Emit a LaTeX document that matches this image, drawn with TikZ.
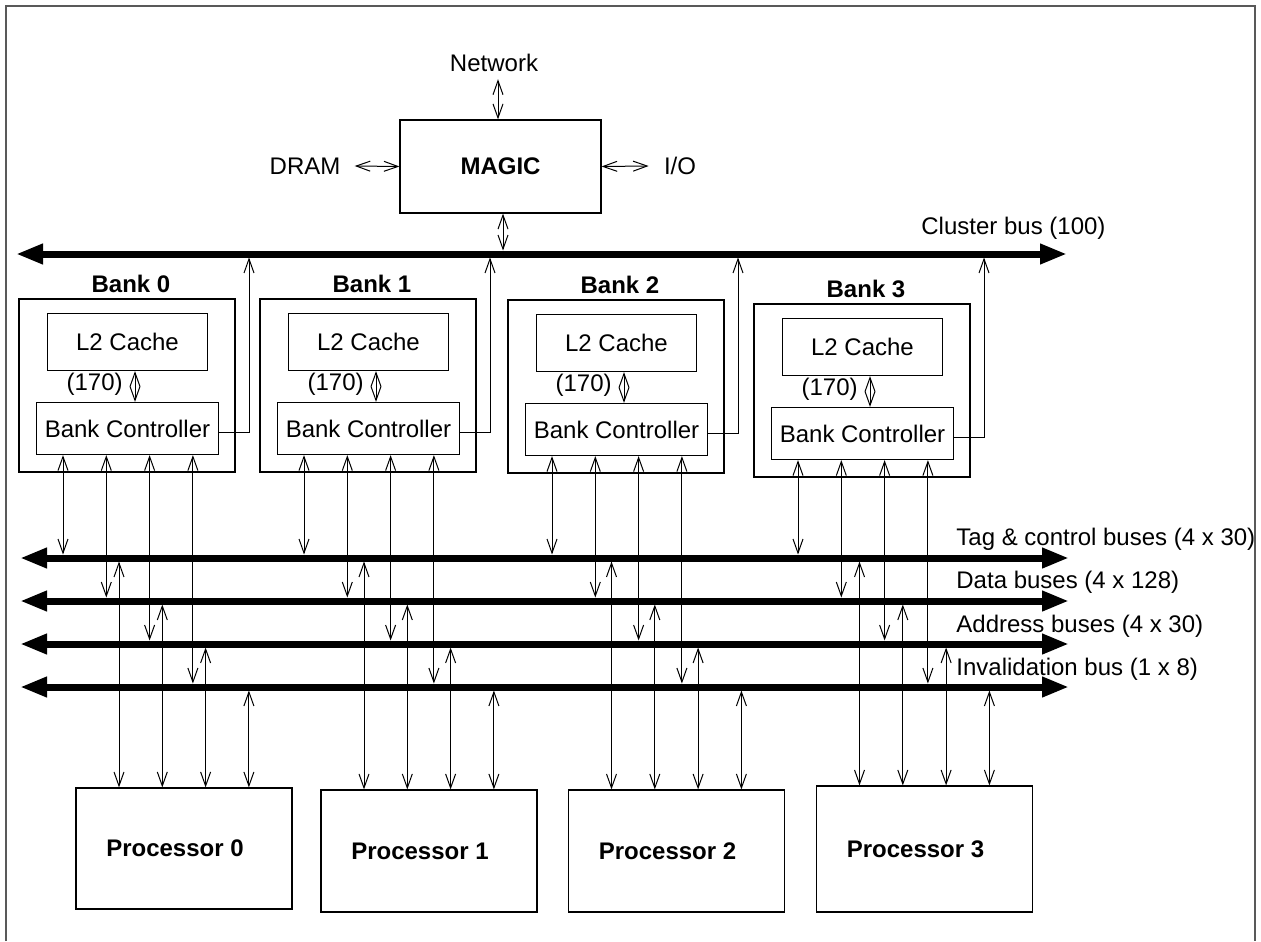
\documentclass[tikz,border=0pt]{standalone}
\usepackage{fontspec}
\setmainfont{Liberation Sans}
\usetikzlibrary{arrows.meta}

\tikzset{
  box/.style={draw, line width=0.6pt, inner sep=0pt},
  lbl/.style={inner sep=0pt},
  biarrow/.style={{Straight Barb[length=7pt,width=5pt]}-{Straight Barb[length=7pt,width=5pt]}, line width=0.5pt},
  uparrow/.style={-{Straight Barb[length=7pt,width=5pt]}, line width=0.5pt},
  bus/.style={{Triangle[length=13.5pt,width=9.5pt]}-{Triangle[length=13.5pt,width=9.5pt]}, line width=3.5pt},
}

\begin{document}
\begin{tikzpicture}[x=0.5pt,y=-0.5pt,font=\fontsize{12pt}{14pt}\selectfont]
    \useasboundingbox (0,0) rectangle (1261,941);
    % frame, open at the bottom
    \draw[black!65, line width=1pt] (6,941) -- (6,6) -- (1255,6) -- (1255,941);

    % MAGIC and the outside world
    \node[box, minimum width=100.5pt, minimum height=46.5pt] (magic) at (500.5,166.5) {\textbf{MAGIC}};
    \node[lbl] (net) at (494,63) {Network};
    \node[lbl] (dram) at (305,166) {DRAM};
    \node[lbl] (io) at (680,166) {I/O};
    \coordinate (netpin) at ([xshift=2pt,yshift=-3.5pt]net.south);
    \draw[biarrow] (netpin) -- (netpin |- magic.north);
    \draw[biarrow] ([xshift=7pt]dram.east) -- (magic.west);
    \draw[biarrow] (magic.east) -- ([xshift=-7.5pt]io.west);

    % cluster bus
    \coordinate (clusterW) at (16,254);
    \coordinate (clusterE) at (1067,254);
    \coordinate (clustertop) at (0,250.5);
    \draw[bus] (clusterW) -- (clusterE);
    \node[lbl, anchor=west] (clusterlbl) at (921,228) {Cluster bus (100)};
    \draw[biarrow] ([xshift=1.25pt]magic.south) -- ([xshift=1.25pt]magic.south |- clustertop);

    % the four bank buses
    \foreach \y [count=\i from 0] in {558,601,644,687} {
        \coordinate (busW\i) at (20,\y);
        \coordinate (busE\i) at (1069,\y);
        \coordinate (bustop\i) at (0,\y-3.5);
        \coordinate (busbot\i) at (0,\y+3.5);
        \draw[bus] (busW\i) -- (busE\i);
    }
    \node[lbl, anchor=west] (buslbl0) at (956,539) {Tag \& control buses (4 x 30)};
    \node[lbl, anchor=west] (buslbl1) at (956,582) {Data buses (4 x 128)};
    \node[lbl, anchor=west] (buslbl2) at (956,626) {Address buses (4 x 30)};
    \node[lbl, anchor=west] (buslbl3) at (956,669) {Invalidation bus (1 x 8)};

    % banks
    \foreach \n/\ox/\oy in {0/19/299, 1/260/299, 2/508/300, 3/754/304} {
        \node[box, minimum width=108pt, minimum height=86.5pt] (bank\n) at (\ox+108,\oy+86.5) {};
        \node[lbl] (banklbl\n) at (\ox+112,\oy-15) {\textbf{Bank \n}};
        \node[box, minimum width=80pt, minimum height=28.5pt] (cache\n) at (\ox+108.5,\oy+43) {L2 Cache};
        \node[box, minimum width=91pt, minimum height=26pt] (ctrl\n) at (\ox+108.5,\oy+129.5) {Bank Controller};
        \coordinate (link\n) at (\ox+116,0);
        \draw[biarrow] (link\n |- cache\n.south) -- (link\n |- ctrl\n.north);
        \node[lbl, anchor=east] (width\n) at (\ox+104,\oy+85) {(170)};
        \coordinate (up\n) at (\ox+230,257.5);
        \draw[uparrow] ([yshift=-2pt]ctrl\n.east) -| (up\n);
        \foreach \k in {0,...,3} {
            \coordinate (port) at (\ox+44+43.3*\k,0);
            \draw[biarrow] (port |- ctrl\n.south) -- (port |- bustop\k);
        }
    }

    % processors
    \foreach \n/\px/\py/\ph in {0/184/848.5/60.5, 1/429/851/61, 2/676.5/851/61, 3/924.5/849/63} {
        \node[box, minimum width=108pt, minimum height=\ph pt, label={[xshift=-4.5pt]center:\textbf{Processor \n}}] (proc\n) at (\px,\py) {};
        \foreach \k in {0,...,3} {
            \coordinate (drop) at (\px-65+43.3*\k,0);
            \draw[biarrow] (drop |- busbot\k) -- (drop |- proc\n.north);
        }
    }
\end{tikzpicture}
\end{document}
